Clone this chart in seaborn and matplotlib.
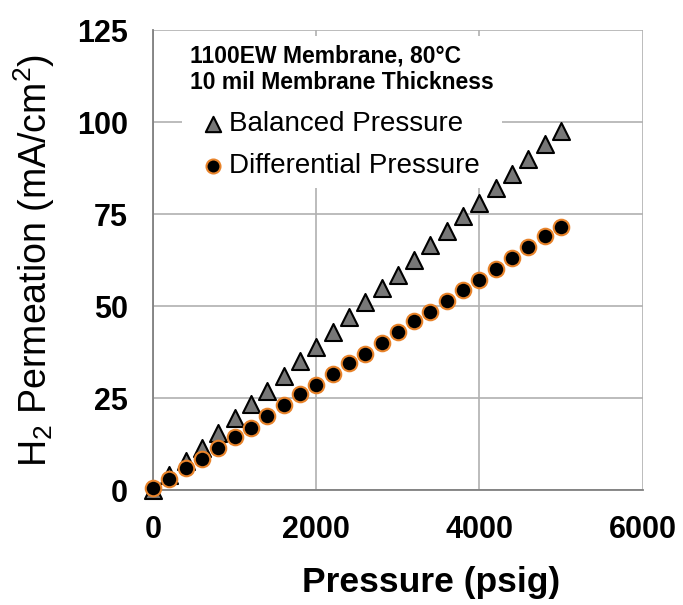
import numpy as np
import pandas as pd
import matplotlib.pyplot as plt
import seaborn as sns

# Data
pressure = [0, 200, 400, 600, 800, 1000, 1200, 1400, 1600, 1800, 2000, 2200, 2400,
            2600, 2800, 3000, 3200, 3400, 3600, 3800, 4000, 4200, 4400, 4600, 4800, 5000]
balanced = [0, 4, 8, 11.5, 15.5, 19.5, 23.5, 27, 31, 35, 39, 43, 47,
            51, 55, 58.5, 62.5, 66.5, 70.5, 74.5, 78, 82, 86, 90, 94, 97.5]
differential = [0.5, 3, 6, 8.5, 11.5, 14.5, 17, 20, 23, 26, 28.5, 31.5, 34.5,
                37, 40, 43, 46, 48.5, 51.5, 54.5, 57, 60, 63, 66, 69, 71.5]

df = pd.DataFrame({'pressure': pressure, 'balanced': balanced, 'differential': differential})

sns.set_style("white")
plt.rcParams['font.family'] = ['Liberation Sans', 'DejaVu Sans']
plt.rcParams['mathtext.fontset'] = 'custom'
plt.rcParams['mathtext.rm'] = 'Liberation Sans'
plt.rcParams['mathtext.it'] = 'Liberation Sans'
plt.rcParams['text.color'] = 'black'
plt.rcParams['axes.labelcolor'] = 'black'

fig = plt.figure(figsize=(6.83, 6.05), dpi=100)
ax = fig.add_axes([0.224, 0.190, 0.717, 0.760])

# Grid lines
ax.set_axisbelow(True)
ax.grid(True, color='#b0b0b0', linewidth=1.2)

sns.scatterplot(data=df, x='pressure', y='balanced', marker='^', s=150,
                color='#777777', edgecolor='black', linewidth=1.5,
                label='Balanced Pressure', ax=ax, clip_on=False, zorder=4)
sns.scatterplot(data=df, x='pressure', y='differential', marker='o', s=125,
                color='black', edgecolor='#e8832a', linewidth=1.5,
                label='Differential Pressure', ax=ax, clip_on=False, zorder=5)

ax.set_xlim(0, 6000)
ax.set_ylim(0, 125)
ax.set_xticks([0, 2000, 4000, 6000])
ax.set_yticks([0, 25, 50, 75, 100, 125])

ax.spines['top'].set_visible(False)
ax.spines['right'].set_visible(False)
for s in ['left', 'bottom']:
    ax.spines[s].set_color('#808080')
    ax.spines[s].set_linewidth(1.3)

ax.tick_params(axis='both', direction='inout', length=12, width=1.2, color='#808080',
               labelsize=22, labelcolor='black')
ax.tick_params(axis='y', pad=12)
ax.tick_params(axis='x', pad=12)
for lbl in ax.get_xticklabels() + ax.get_yticklabels():
    lbl.set_fontweight('bold')

ax.set_xlabel('Pressure (psig)', fontsize=25.5, fontweight='bold')
ax.xaxis.set_label_coords(0.568, -0.165)
ax.set_ylabel('H$_2$ Permeation (mA/cm$^2$)', fontsize=27)
ax.yaxis.set_label_coords(-0.197, 0.5)

leg = ax.legend(title='1100EW Membrane, 80°C\n10 mil Membrane Thickness',
                title_fontproperties={'weight': 'bold', 'size': 16.5},
                loc='upper left', bbox_to_anchor=(0.059, 0.987), borderaxespad=0,
                fontsize=20, frameon=True, fancybox=False, framealpha=1,
                edgecolor='white', handlelength=0.6, handletextpad=0.25,
                labelspacing=0.6, borderpad=0.3, markerscale=0.9)
leg.get_frame().set_linewidth(0)
leg.set_zorder(3)
leg._legend_box.sep = 12

plt.savefig('out.png', dpi=100)
